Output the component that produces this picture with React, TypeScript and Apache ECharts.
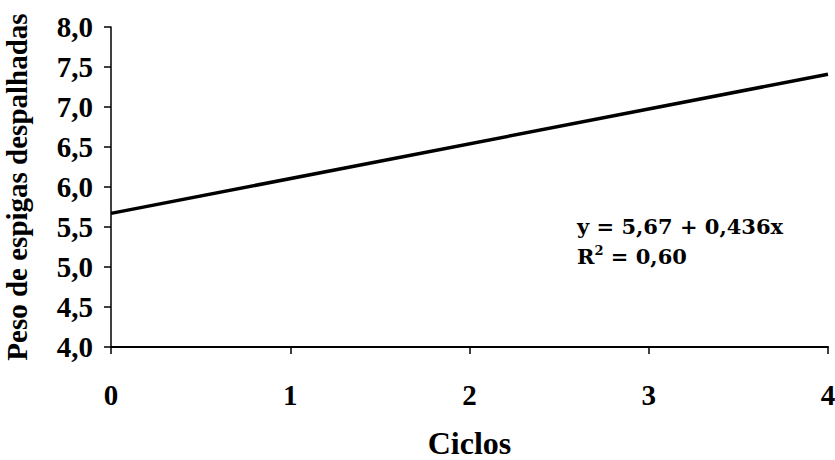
import React, { useEffect, useRef } from "react";
import * as echarts from "echarts";

const xTicks = [0, 1, 2, 3, 4];
const yTicks = ["4,0", "4,5", "5,0", "5,5", "6,0", "6,5", "7,0", "7,5", "8,0"];
const lineX = [0, 4];
const lineY = [5.67, 7.41];
const eqLine1 = "y = 5,67 + 0,436x";
const eqLine2R = "R";
const eqLine2Sup = "2";
const eqLine2Rest = " = 0,60";
const xName = "Ciclos";
const yName = "Peso de espigas despalhadas";

const FONT = "'Liberation Serif', 'Times New Roman', serif";
const EQFONT = "'DejaVu Serif', 'Liberation Serif', serif";

export default function App() {
  const ref = useRef<HTMLDivElement>(null);
  useEffect(() => {
    if (!ref.current) return;
    const chart = echarts.init(ref.current, undefined, { renderer: "svg" });
    chart.setOption({
      animation: false,
      backgroundColor: "#ffffff",
      grid: {
        left: 111,
        right: 7,
        top: 27,
        bottom: 113,
        containLabel: false,
        outerBoundsMode: "none",
      },
      xAxis: {
        type: "value",
        min: 0,
        max: 4,
        interval: 1,
        name: xName,
        nameLocation: "middle",
        nameGap: 80,
        nameTextStyle: { fontFamily: FONT, fontWeight: "bold", fontSize: 32, color: "#000" },
        axisLine: { show: true, lineStyle: { color: "#000", width: 2 } },
        axisTick: { show: true, inside: false, length: 7, lineStyle: { color: "#000", width: 1.5 } },
        axisLabel: {
          fontFamily: FONT,
          fontWeight: "bold",
          fontSize: 29,
          color: "#000",
          margin: 33,
          formatter: (v: number) => (xTicks.includes(v) ? String(v) : ""),
        },
        splitLine: { show: false },
      },
      yAxis: {
        type: "value",
        min: 4,
        max: 8,
        interval: 0.5,
        name: yName,
        nameLocation: "middle",
        nameGap: 80,
        nameRotate: 90,
        nameTextStyle: { fontFamily: FONT, fontWeight: "bold", fontSize: 29, color: "#000" },
        axisLine: { show: true, lineStyle: { color: "#000", width: 1.5 } },
        axisTick: { show: true, inside: false, length: 7, lineStyle: { color: "#000", width: 1.5 } },
        axisLabel: {
          fontFamily: FONT,
          fontWeight: "bold",
          fontSize: 29,
          color: "#000",
          margin: 18,
          formatter: (v: number) => {
            const i = Math.round((v - 4) / 0.5);
            return yTicks[i] ?? "";
          },
        },
        splitLine: { show: false },
      },
      series: [
        {
          type: "line",
          data: lineX.map((x, i) => [x, lineY[i]]),
          symbol: "none",
          lineStyle: { color: "#000", width: 3.5 },
        },
      ],
      graphic: [
        {
          type: "text",
          left: 577,
          top: 216,
          style: {
            text: eqLine1,
            fontFamily: EQFONT,
            fontWeight: "bold",
            fontSize: 21,
            fill: "#000",
          },
        },
        {
          type: "text",
          left: 577,
          top: 244,
          style: {
            text: `{r|${eqLine2R}}{sup|${eqLine2Sup}}{r|${eqLine2Rest}}`,
            rich: {
              r: { fontFamily: EQFONT, fontWeight: "bold", fontSize: 21, fill: "#000", verticalAlign: "bottom" },
              sup: { fontFamily: EQFONT, fontWeight: "bold", fontSize: 13, fill: "#000", verticalAlign: "top", padding: [0, 0, 10, 0] },
            },
          },
        },
      ],
    });
    return () => chart.dispose();
  }, []);
  return (
    <div
      ref={ref}
      style={{ position: "absolute", left: 0, top: 0, width: 835, height: 460 }}
    />
  );
}
